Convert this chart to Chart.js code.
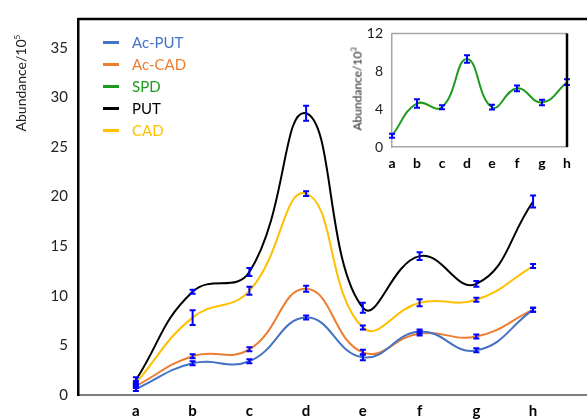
<!DOCTYPE html>
<html>
<head>
  <title>Abundance chart</title>
  <script src="https://cdn.jsdelivr.net/npm/chart.js@4/dist/chart.umd.min.js"></script>
  <style>
    * { margin: 0; padding: 0; box-sizing: border-box; }
    body { background: #fff; font-family: Lato, "Open Sans", sans-serif; }
    .wrap { position: relative; width: 587px; height: 420px; overflow: hidden; }
    #mainChart { position: absolute; left: 0; top: 0; }
    #insetChart { position: absolute; left: 345px; top: 16px; }
    .ytitle {
      position: absolute;
      white-space: nowrap;
      color: #222;
      transform: translate(-50%, -50%) rotate(-90deg);
    }
    .ytitle sup { font-size: 0.6em; vertical-align: 0.7em; line-height: 0; }
    .legend { position: absolute; left: 103px; top: 31px; }
    .legend-item { display: flex; align-items: center; height: 22px; font-size: 15px; }
    .legend-line { width: 16px; height: 3px; margin-right: 13px; }
  </style>
</head>
<body>
<div class="wrap">
  <canvas id="mainChart" width="587" height="420"></canvas>
  <canvas id="insetChart" width="242" height="160"></canvas>
  <div class="ytitle" style="left:20px; top:83px; font-size:14px;">Abundance/10<sup>5</sup></div>
  <div class="ytitle" style="left:357px; top:89px; font-size:12px;">Abundance/10<sup>3</sup></div>
  <div class="legend" id="legend"></div>
</div>

<script>
  // samples a..h
  const categories = ['a', 'b', 'c', 'd', 'e', 'f', 'g', 'h'];

  // main chart, abundance / 10^5
  const acPut = [0.6, 3.2, 3.4, 7.8, 3.8, 6.4, 4.5, 8.6];
  const acPutErr = [0.2, 0.15, 0.15, 0.2, 0.3, 0.2, 0.15, 0.15];
  const acCad = [0.9, 3.9, 4.6, 10.7, 4.3, 6.2, 5.9, 8.6];
  const acCadErr = [0.2, 0.2, 0.2, 0.3, 0.25, 0.2, 0.15, 0.15];
  const put = [1.5, 10.4, 12.4, 28.4, 8.8, 14.0, 11.2, 19.5];
  const putErr = [0.3, 0.2, 0.4, 0.75, 0.5, 0.4, 0.3, 0.6];
  const cad = [1.2, 7.8, 10.5, 20.3, 6.8, 9.3, 9.6, 13.0];
  const cadErr = [0.2, 0.75, 0.4, 0.25, 0.15, 0.35, 0.15, 0.1];

  // inset, abundance / 10^3
  const spd = [1.2, 4.6, 4.2, 9.3, 4.2, 6.2, 4.7, 6.85];
  const spdErr = [0.2, 0.45, 0.15, 0.4, 0.25, 0.3, 0.3, 0.3];

  const series = [
    { label: 'Ac-PUT', color: '#4472C4', values: acPut, errors: acPutErr },
    { label: 'Ac-CAD', color: '#ED7D31', values: acCad, errors: acCadErr },
    { label: 'SPD', color: '#1E9A1E', values: spd, errors: spdErr },
    { label: 'PUT', color: '#000000', values: put, errors: putErr },
    { label: 'CAD', color: '#FFC000', values: cad, errors: cadErr }
  ];

  // legend (html)
  const legendEl = document.getElementById('legend');
  series.forEach(s => {
    const item = document.createElement('div');
    item.className = 'legend-item';
    item.innerHTML = '<span class="legend-line" style="background:' + s.color + '"></span>' +
      '<span style="color:' + s.color + '">' + s.label + '</span>';
    legendEl.appendChild(item);
  });

  // blue I-beam error bars on every point
  const errorBars = {
    id: 'errorBars',
    afterDatasetsDraw(chart) {
      const { ctx } = chart;
      const x = chart.scales.x, y = chart.scales.y;
      ctx.save();
      ctx.strokeStyle = '#0000FF';
      ctx.lineWidth = 2;
      chart.data.datasets.forEach(ds => {
        ds.data.forEach((p, j) => {
          const v = typeof p === 'object' ? p.y : p;
          const px = typeof p === 'object' ? x.getPixelForValue(p.x) : x.getPixelForValue(j);
          let top = y.getPixelForValue(v + ds.errors[j]);
          let bot = y.getPixelForValue(v - ds.errors[j]);
          if (bot - top < 4) { const m = (top + bot) / 2; top = m - 2; bot = m + 2; }
          ctx.beginPath();
          ctx.moveTo(px, top); ctx.lineTo(px, bot);
          ctx.moveTo(px - 3, top); ctx.lineTo(px + 3, top);
          ctx.moveTo(px - 3, bot); ctx.lineTo(px + 3, bot);
          ctx.stroke();
        });
      });
      ctx.restore();
    }
  };

  // top / right frame lines
  const frame = {
    id: 'frame',
    afterDraw(chart, args, opts) {
      const { ctx, chartArea: a } = chart;
      ctx.save();
      ctx.lineWidth = opts.topWidth;
      ctx.strokeStyle = opts.topColor;
      ctx.beginPath();
      ctx.moveTo(a.left, a.top); ctx.lineTo(a.right, a.top);
      ctx.stroke();
      if (opts.right) {
        ctx.lineWidth = 2.5;
        ctx.strokeStyle = '#000';
        ctx.beginPath();
        ctx.moveTo(a.right, a.top); ctx.lineTo(a.right, a.bottom);
        ctx.stroke();
      }
      ctx.restore();
    }
  };

  const mainSeries = series.filter(s => s.label !== 'SPD');

  new Chart(document.getElementById('mainChart'), {
    type: 'line',
    data: {
      datasets: mainSeries.map(s => ({
        label: s.label,
        data: s.values.map((v, i) => ({ x: i, y: v })),
        errors: s.errors,
        borderColor: s.color,
        borderWidth: 2,
        pointRadius: 0,
        tension: 0.45,
        fill: false
      }))
    },
    options: {
      responsive: false,
      animation: false,
      devicePixelRatio: 1,
      layout: { padding: { top: 13, right: 0, left: 0, bottom: 0 } },
      plugins: {
        legend: { display: false },
        tooltip: { enabled: false },
        frame: { topColor: '#000', topWidth: 2.5, right: false }
      },
      scales: {
        x: {
          type: 'linear',
          min: -1.02,
          max: 7.95,
          afterBuildTicks: s => { s.ticks = categories.map((c, i) => ({ value: i })); },
          afterFit: s => { s.height = 25; },
          grid: { display: false, drawTicks: false },
          border: { color: '#7f7f7f', width: 2 },
          ticks: {
            autoSkip: false,
            maxRotation: 0,
            padding: 7,
            color: '#000',
            font: { family: 'Lato', size: 15, weight: 'bold' },
            callback: v => categories[v]
          }
        },
        y: {
          min: 0,
          max: 37.9,
          afterFit: s => { s.width = 78; },
          grid: { display: false, drawTicks: false },
          border: { color: '#000', width: 2.5 },
          ticks: {
            stepSize: 5,
            includeBounds: false,
            padding: 10,
            color: '#222',
            font: { family: 'Lato', size: 15 }
          }
        }
      }
    },
    plugins: [errorBars, frame]
  });

  const spdSeries = series.find(s => s.label === 'SPD');

  new Chart(document.getElementById('insetChart'), {
    type: 'line',
    data: {
      labels: categories,
      datasets: [{
        label: spdSeries.label,
        data: spdSeries.values,
        errors: spdSeries.errors,
        borderColor: spdSeries.color,
        borderWidth: 2,
        pointRadius: 0,
        tension: 0.45,
        fill: false
      }]
    },
    options: {
      responsive: false,
      animation: false,
      devicePixelRatio: 1,
      layout: { padding: { top: 10, right: 20, left: 0, bottom: 0 } },
      plugins: {
        legend: { display: false },
        tooltip: { enabled: false },
        frame: { topColor: '#a6a6a6', topWidth: 1.5, right: true }
      },
      scales: {
        x: {
          offset: false,
          afterFit: s => { s.height = 29; },
          grid: { display: false, drawTicks: false },
          border: { color: '#a6a6a6', width: 1.5 },
          ticks: {
            autoSkip: false,
            maxRotation: 0,
            padding: 8,
            color: '#000',
            font: { family: 'Lato', size: 14, weight: 'bold' }
          }
        },
        y: {
          min: 0,
          max: 12,
          afterFit: s => { s.width = 47; },
          grid: { display: false, drawTicks: false },
          border: { color: '#a6a6a6', width: 1.5 },
          ticks: {
            stepSize: 4,
            padding: 9,
            color: '#222',
            font: { family: 'Lato', size: 14 }
          }
        }
      }
    },
    plugins: [errorBars, frame]
  });
</script>
</body>
</html>
